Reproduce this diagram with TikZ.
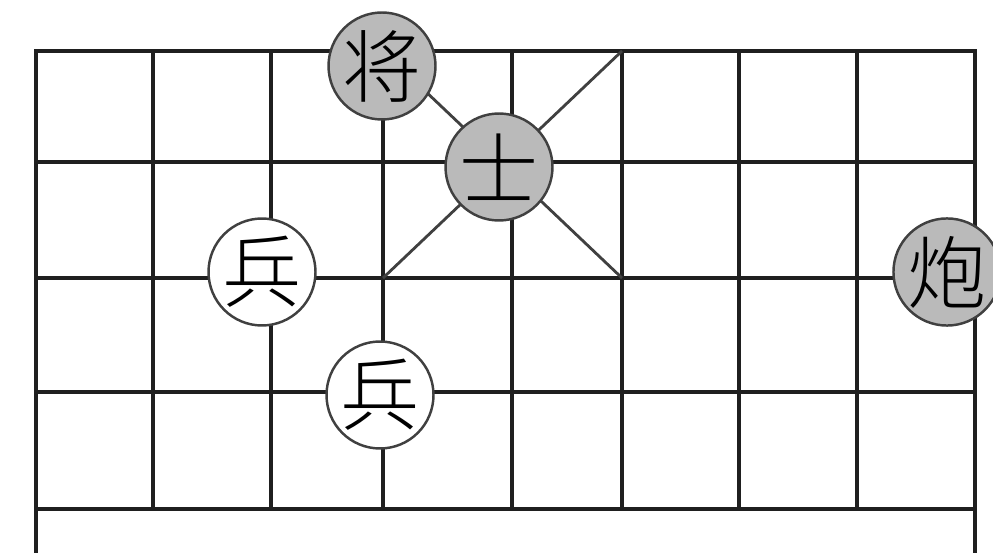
\documentclass[tikz,border=0pt]{standalone}
\usepackage{fontspec}
\newfontfamily\cjk{Noto Sans CJK SC Light}
\tikzset{
  board/.style={line width=2.3pt, black!88},
  palace/.style={line width=1.6pt, black!75},
  piece/.style={circle, draw=black!75, line width=1.4pt, minimum size=2.14cm, inner sep=0pt,
    font=\cjk\fontsize{45}{45}\selectfont},
  redpiece/.style={piece, fill=black!27},
  blackpiece/.style={piece, fill=white}
}
\begin{document}
\begin{tikzpicture}[x=0.02cm, y=-0.02cm]
  \useasboundingbox (0,0) rectangle (993,553);
  % board lines
  \foreach \y in {51,162,278,392,509}
    \draw[board] (36,\y) -- (975,\y);
  \foreach \x in {153,271,383,512,622,739,857}
    \draw[board] (\x,51) -- (\x,509);
  \draw[board] (36,553) -- (36,51) -- (975,51) -- (975,553);
  % palace
  \draw[palace] (383,51) -- (622,278);
  \draw[palace] (383,278) -- (622,51);
  % pieces
  \node[redpiece] (jiang) at (382,66) {将};
  \node[redpiece] (shi) at (499,167) {士};
  \node[redpiece] (pao) at (947,272) {炮};
  \node[blackpiece] (bingA) at (262,272) {兵};
  \node[blackpiece] (bingB) at (380,395) {兵};
\end{tikzpicture}
\end{document}
